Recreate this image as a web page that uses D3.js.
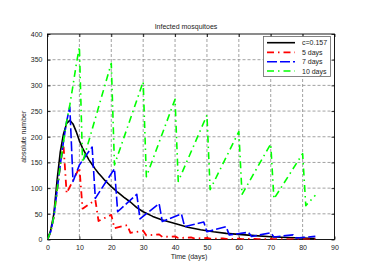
<!DOCTYPE html>
<html><head><meta charset="utf-8">
<script src="https://cdn.jsdelivr.net/npm/d3@7"></script>
<style>body{margin:0;background:#fff}svg{display:block}text{font-family:"Liberation Sans",Arial,sans-serif}</style>
</head><body>
<script>
const xTicks = [0,10,20,30,40,50,60,70,80,90];
const yTicks = [0,50,100,150,200,250,300,350,400];
const legendLabels = ["c=0.157","5 days","7 days","10 days"];

const blackDays = [0,1,2,3,4,5,6,7,8,9,10,11,12,13,14,15,16,17,18,19,20,22,24,26,28,30,33,36,40,44,48,52,56,60,65,70,75,80,84];
const blackValues = [0,18,50,115,170,205,226,232,225,210,192,178,166,155,146,137,129,122,115,109,103,92,82,73,62,54,45,38,31,24,19,15,12,10,7.5,5.5,4,3,2];

const redDays = [0,1,2,3,4,5,6,10,11,15,16,20,21,25,26,30,31,35,36,40,41,45,46,50,51,55,56,60,61,65,66,70,71,75,76,80,81,84];
const redValues = [0,15,45,95,145,185,90,140,60,77,36,48,22,28,13,17,8,10,5,6,3,4,2,3,1.5,2,1,1.5,0.8,1.2,0.6,1,0.5,0.8,0.4,0.6,0.3,0.4];

const blueDays = [0,1,2,3,4,5,6,7,8,10,12,14,15,21,22,28,29,35,36,42,43,49,50,56,57,63,64,70,71,77,78,84];
const blueValues = [0,15,45,95,145,190,230,258,113,145,163,180,80,138,54,88,40,70,35,50,25,34,15,25,9,14,6,13,5,9,3,6];

const greenDays = [0,1,2,3,4,5,6,7,8,9,10,11,20,21,30,31,40,41,50,51,60,61,70,71,80,81,84];
const greenValues = [0,15,45,95,145,190,230,262,300,340,375,150,343,145,307,122,273,113,242,97,210,88,186,79,167,66,86];

const W = 382, H = 274;
const L = 47.5, R = 334.5, T = 34, B = 239.5;
const svg = d3.select("body").append("svg").attr("width", W).attr("height", H);
const x = d3.scaleLinear().domain([0,90]).range([L,R]);
const y = d3.scaleLinear().domain([0,400]).range([B,T]);

// grid
const grid = svg.append("g").attr("stroke","#8a8a8a").attr("stroke-width",0.8).attr("stroke-dasharray","3,2");
xTicks.slice(1,-1).forEach(t => grid.append("line").attr("x1",x(t)).attr("x2",x(t)).attr("y1",T).attr("y2",B));
yTicks.slice(1,-1).forEach(t => grid.append("line").attr("y1",y(t)).attr("y2",y(t)).attr("x1",L).attr("x2",R));

// axes
const fs = 7;
const xAxis = svg.append("g").attr("transform",`translate(0,${B})`)
  .call(d3.axisBottom(x).tickValues(xTicks).tickSize(-3).tickPadding(6).tickFormat(d3.format("d")));
const yAxis = svg.append("g").attr("transform",`translate(${L},0)`)
  .call(d3.axisLeft(y).tickValues(yTicks).tickSize(-3).tickPadding(5).tickFormat(d3.format("d")));
const xTop = svg.append("g").attr("transform",`translate(0,${T})`)
  .call(d3.axisTop(x).tickValues(xTicks).tickSize(-3).tickFormat(""));
const yRight = svg.append("g").attr("transform",`translate(${R},0)`)
  .call(d3.axisRight(y).tickValues(yTicks).tickSize(-3).tickFormat(""));
[xAxis,yAxis,xTop,yRight].forEach(g => {
  g.selectAll("text").attr("font-size",fs).attr("fill","#222").attr("font-family","Liberation Sans, Arial, sans-serif");
  g.select(".domain").remove();
  g.selectAll("line").attr("stroke","#000").attr("stroke-width",0.8);
});
svg.append("rect").attr("x",L).attr("y",T).attr("width",R-L).attr("height",B-T)
  .attr("fill","none").attr("stroke","#000").attr("stroke-width",0.9);

// series
const line = d3.line().x(d => x(d[0])).y(d => y(d[1]));
const series = [
  {days: blackDays, vals: blackValues, color: "#000000", dash: null, w: 1.6},
  {days: redDays, vals: redValues, color: "#ff0000", dash: "7,4,1.5,4", w: 1.8},
  {days: blueDays, vals: blueValues, color: "#0000ff", dash: "10,3", w: 1.6},
  {days: greenDays, vals: greenValues, color: "#00ff00", dash: "7,4,1.5,4", w: 1.6}
];
svg.append("clipPath").attr("id","c").append("rect").attr("x",L).attr("y",T).attr("width",R-L).attr("height",B-T);
const plotG = svg.append("g").attr("clip-path","url(#c)");
series.forEach(s => {
  plotG.append("path").datum(s.days.map((d,i)=>[d,s.vals[i]]))
    .attr("d", line).attr("fill","none").attr("stroke",s.color).attr("stroke-width",s.w)
    .attr("stroke-dasharray", s.dash).attr("stroke-linejoin","round");
});

// legend
const lg = svg.append("g");
lg.append("rect").attr("x",263.5).attr("y",36.5).attr("width",67).attr("height",40)
  .attr("fill","#fff").attr("stroke","#666").attr("stroke-width",0.8);
const rowY = [42.7,52.3,61.7,71];
series.forEach((s,i) => {
  lg.append("line").attr("x1",267).attr("x2",295).attr("y1",rowY[i]).attr("y2",rowY[i])
    .attr("stroke",s.color).attr("stroke-width",s.w).attr("stroke-dasharray",s.dash);
  lg.append("text").attr("x",302).attr("y",rowY[i]+2.5).attr("font-size",fs).attr("fill","#222").text(legendLabels[i]);
});

// labels
svg.append("text").attr("x",186).attr("y",29).attr("text-anchor","middle").attr("font-size",fs).attr("fill","#222").text("Infected mosquitoes");
svg.append("text").attr("x",189).attr("y",259).attr("text-anchor","middle").attr("font-size",fs).attr("fill","#222").text("Time (days)");
svg.append("text").attr("transform",`translate(26,${(T+B)/2}) rotate(-90)`).attr("text-anchor","middle").attr("font-size",fs).attr("fill","#222").text("absolute number");
</script>
</body></html>
